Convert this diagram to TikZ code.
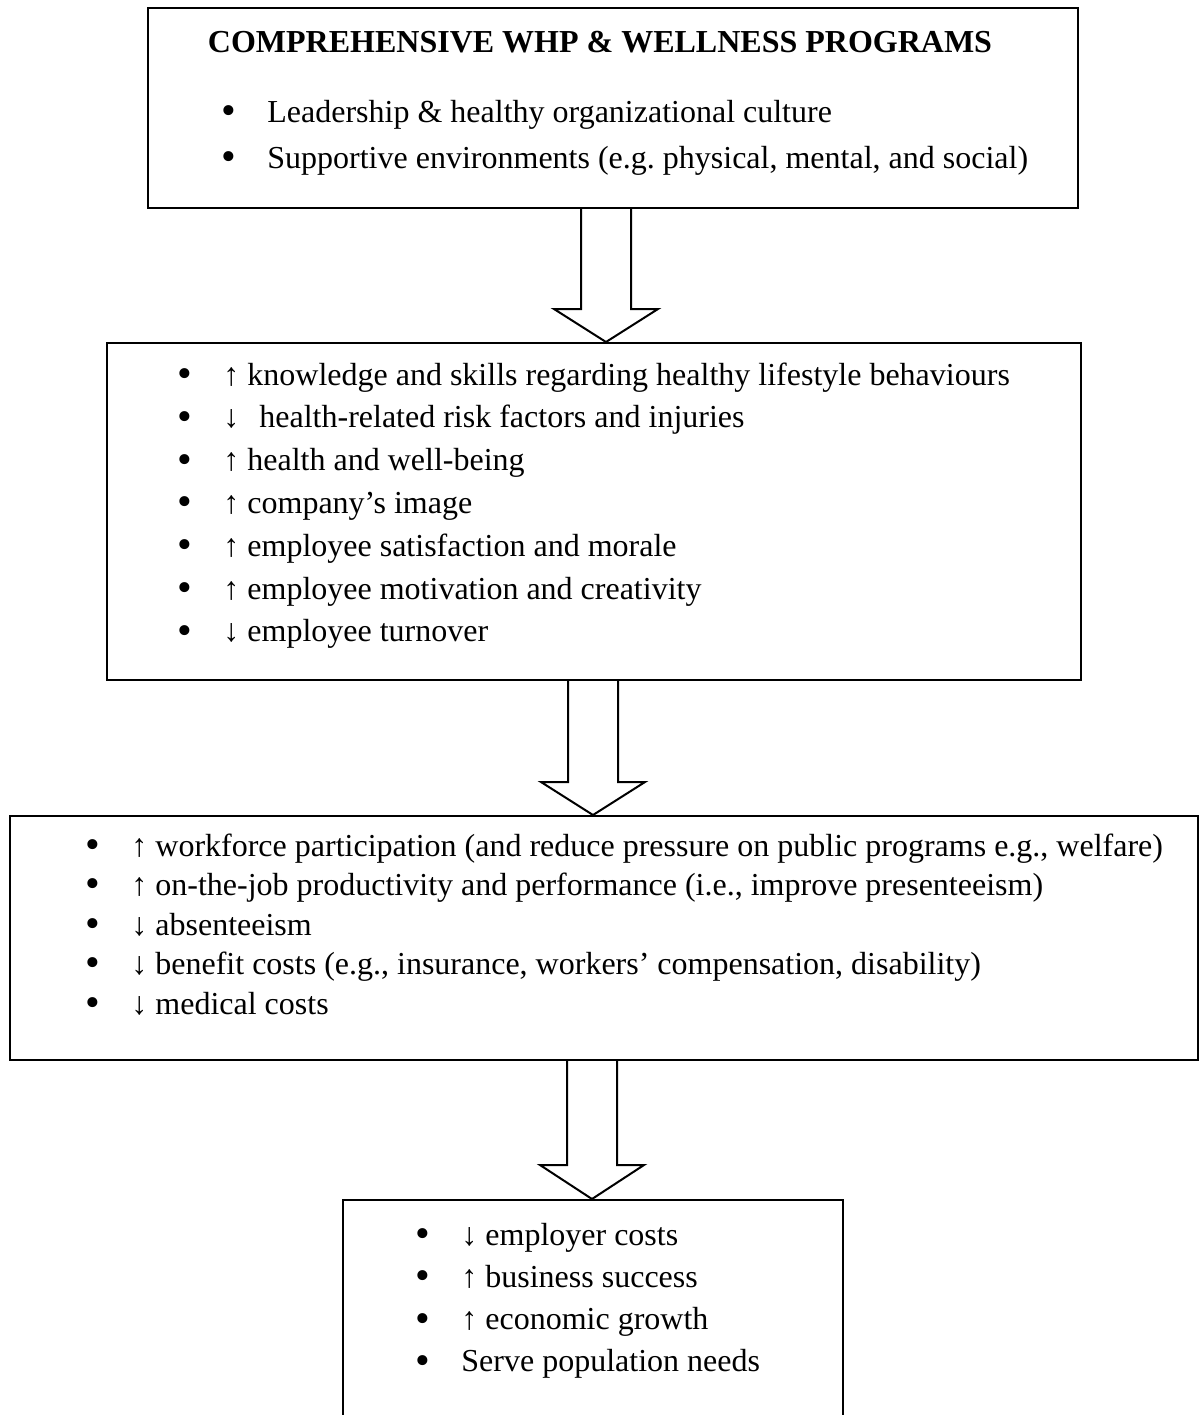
\documentclass[tikz,border=0pt]{standalone}
\usepackage{fontspec}
\setmainfont{Liberation Serif}
\usetikzlibrary{calc,fit}
\frenchspacing

\tikzset{
  panel/.style={draw, line width=1pt, inner sep=0pt},
  item/.style={anchor=base west, inner sep=0pt, font=\fontsize{16}{19}\selectfont},
  blockarrow/.style={draw, line width=1pt, line join=miter},
}
\newcommand{\bul}{\makebox[23pt][l]{\raisebox{-1.2pt}{\fontsize{21}{21}\selectfont\textbullet}}}

\begin{document}
\begin{tikzpicture}[x=0.5pt, y=-0.5pt]
  \useasboundingbox (0,0) rectangle (1201,1415);

  % boxes
  \node[panel, fit={(148,8) (1078,208)}] (whp) {};
  \node[panel, fit={(107,343) (1081,680)}] (gains) {};
  \node[panel, fit={(10,816) (1198,1060)}] (savings) {};
  \node[panel, fit={(343,1200) (843,1440)}] (outcome) {};

  % programs
  \node[item, anchor=base, font=\fontsize{16}{19}\selectfont\bfseries] (title) at (600,52)
    {COMPREHENSIVE WHP \& WELLNESS PROGRAMS};
  \foreach \txt [count=\i] in {Leadership \& healthy organizational culture,
      {Supportive environments (e.g. physical, mental, and social)}}
    \node[item] (whp\i) at (221,{122+46*(\i-1)}) {\bul\txt};

  % employee level
  \foreach \txt [count=\i] in {↑ knowledge and skills regarding healthy lifestyle behaviours,
      ↓\hspace{6pt} health-related risk factors and injuries,
      ↑ health and well-being,
      ↑ company’s image,
      ↑ employee satisfaction and morale,
      ↑ employee motivation and creativity,
      ↓ employee turnover}
    \node[item] (gains\i) at (177,{385+42.8*(\i-1)}) {\bul\txt};

  % organisation level
  \foreach \txt [count=\i] in {{↑ workforce participation (and reduce pressure on public programs e.g., welfare)},
      {↑ on-the-job productivity and performance (i.e., improve presenteeism)},
      ↓ absenteeism,
      {↓ benefit costs (e.g., insurance, workers’ compensation, disability)},
      ↓ medical costs}
    \node[item] (savings\i) at (85,{856+39.5*(\i-1)}) {\bul\txt};

  % society level
  \foreach \txt [count=\i] in {↓ employer costs,
      ↑ business success,
      ↑ economic growth,
      Serve population needs}
    \node[item] (outcome\i) at (415,{1245+42.3*(\i-1)}) {\bul\txt};

  % block arrows
  \foreach \up/\dn/\cx/\sy in {whp/gains/606/309, gains/savings/593/782, savings/outcome/592/1165} {
    \coordinate (sl) at ({\cx-25},\sy);
    \coordinate (sr) at ({\cx+25},\sy);
    \coordinate (tip) at (\cx,\sy);
    \draw[blockarrow] (sl |- \up.south) -- (sl) -- ++(-27,0) -- (tip |- \dn.north)
      -- ($(sr)+(27,0)$) -- (sr) -- (sr |- \up.south);
  }
\end{tikzpicture}
\end{document}
